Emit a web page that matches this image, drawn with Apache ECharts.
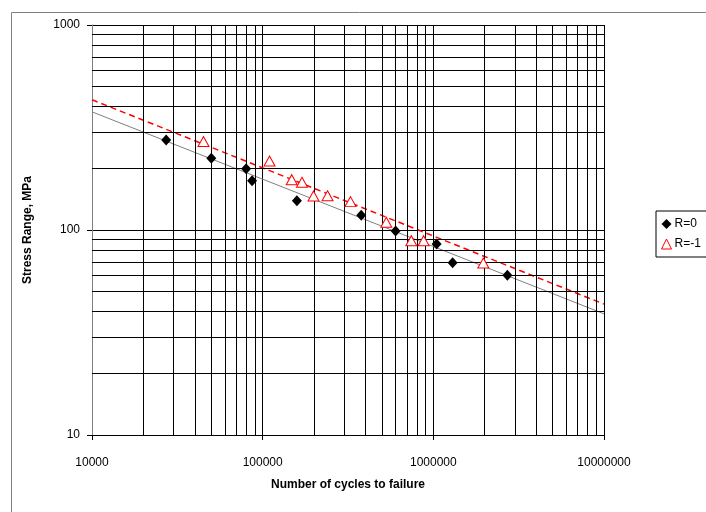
<!DOCTYPE html>
<html>
<head>
<meta charset="utf-8">
<script src="https://cdn.jsdelivr.net/npm/echarts@6/dist/echarts.min.js"></script>
<style>html,body{margin:0;padding:0;background:#fff}#c{width:706px;height:512px}</style>
</head>
<body>
<div id="c"></div>
<script>
// Data
var seriesNames = ['R=0', 'R=-1'];
var r0Cycles = [27200, 50000, 80000, 86700, 158700, 378000, 601000, 1045000, 1297000, 2716000];
var r0Stress = [275, 224, 199, 174, 139, 118, 99, 85.5, 69.3, 60.1];
var r1Cycles = [45000, 109700, 148000, 170000, 198500, 240000, 327000, 530000, 743000, 877000, 1963000];
var r1Stress = [270, 217, 176, 171, 146.6, 147, 137.5, 109, 88.7, 88.7, 69];
var trendR0Cycles = [10000, 10000000];
var trendR0Stress = [377, 39.0];
var trendR1Cycles = [10000, 10000000];
var trendR1Stress = [432, 43.5];
var xTickValues = [10000, 100000, 1000000, 10000000];
var xTickLabels = ['10000', '100000', '1000000', '10000000'];
var yTickValues = [10, 100, 1000];
var yTickLabels = ['10', '100', '1000'];
var minorMultipliers = [2, 3, 4, 5, 6, 7, 8, 9];
var xDecades = [10000, 100000, 1000000];
var yDecades = [10, 100];

function zip(a, b) { return a.map(function (v, i) { return [v, b[i]]; }); }
function lookup(vals, labels, v) {
  for (var i = 0; i < vals.length; i++) if (Math.abs(v - vals[i]) / vals[i] < 1e-6) return labels[i];
  return '';
}
var minorLines = [];
xDecades.forEach(function (d) { minorMultipliers.forEach(function (m) { minorLines.push({ xAxis: d * m }); }); });
yDecades.forEach(function (d) { minorMultipliers.forEach(function (m) { minorLines.push({ yAxis: d * m }); }); });

var font = 'Liberation Sans, Arial, sans-serif';
var chart = echarts.init(document.getElementById('c'), null, { renderer: 'canvas' });
chart.setOption({
  animation: false,
  backgroundColor: '#fff',
  textStyle: { fontFamily: font },
  graphic: [{
    type: 'rect', silent: true, z: -10,
    shape: { x: 11.5, y: 12.5, width: 720, height: 520 },
    style: { fill: 'none', stroke: '#808080', lineWidth: 1 }
  }],
  grid: { left: 92, right: 102, top: 25, bottom: 77, containLabel: false },
  legend: {
    data: seriesNames,
    orient: 'vertical',
    left: 656, top: 211,
    borderColor: '#000', borderWidth: 1,
    padding: [7, 14, 7, 5],
    itemGap: 8,
    itemWidth: 10, itemHeight: 10,
    itemStyle: { borderWidth: 1 },
    textStyle: { fontFamily: font, fontSize: 12, color: '#000', padding: [0, 0, 0, -2] }
  },
  xAxis: {
    type: 'log', logBase: 10, min: 10000, max: 10000000,
    name: 'Number of cycles to failure',
    nameLocation: 'middle', nameGap: 44,
    nameTextStyle: { fontFamily: font, fontSize: 12, fontWeight: 'bold', color: '#000' },
    axisLine: { show: true, onZero: false, lineStyle: { color: '#000', width: 1 } },
    axisTick: { show: true, inside: false, length: 5, lineStyle: { color: '#000' } },
    axisLabel: { margin: 22, fontSize: 12, color: '#000', fontFamily: font,
      formatter: function (v) { return lookup(xTickValues, xTickLabels, v); } },
    splitLine: { show: true, lineStyle: { color: '#000', width: 1 } },
    minorTick: { show: false }, minorSplitLine: { show: false }
  },
  yAxis: {
    type: 'log', logBase: 10, min: 10, max: 1000,
    name: 'Stress Range, MPa',
    nameLocation: 'middle', nameGap: 58, nameRotate: 90,
    nameTextStyle: { fontFamily: font, fontSize: 12, fontWeight: 'bold', color: '#000' },
    axisLine: { show: true, onZero: false, lineStyle: { color: '#808080', width: 1 } },
    axisTick: { show: true, inside: false, length: 5, lineStyle: { color: '#000' } },
    axisLabel: { margin: 12, fontSize: 12, color: '#000', fontFamily: font,
      formatter: function (v) { return lookup(yTickValues, yTickLabels, v); } },
    splitLine: { show: true, lineStyle: { color: '#000', width: 1 } },
    minorTick: { show: false }, minorSplitLine: { show: false }
  },
  series: [
    {
      name: 'grid', type: 'line', data: [], silent: true,
      markLine: { silent: true, symbol: ['none', 'none'], animation: false,
        label: { show: false },
        lineStyle: { color: '#000', width: 1, type: 'solid' },
        emphasis: { disabled: true },
        data: minorLines }
    },
    {
      name: 'trendR0', type: 'line', data: zip(trendR0Cycles, trendR0Stress),
      symbol: 'none', silent: true, z: 3,
      lineStyle: { color: '#808080', width: 1 }
    },
    {
      name: 'trendR1', type: 'line', data: zip(trendR1Cycles, trendR1Stress),
      symbol: 'none', silent: true, z: 3,
      lineStyle: { color: '#ff0000', width: 1.5, type: [6, 4] }
    },
    {
      name: 'R=0', type: 'scatter', data: zip(r0Cycles, r0Stress),
      symbol: 'diamond', symbolSize: [10, 11], z: 5,
      itemStyle: { color: '#000', opacity: 1 }
    },
    {
      name: 'R=-1', type: 'scatter', data: zip(r1Cycles, r1Stress),
      symbol: 'triangle', symbolSize: [11, 10], z: 5,
      itemStyle: { color: '#fff', borderColor: '#ff0000', borderWidth: 1, opacity: 1 }
    }
  ]
});
</script>
</body>
</html>
